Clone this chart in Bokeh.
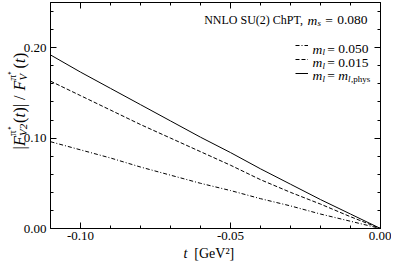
from math import pi
import numpy as np
from bokeh.plotting import figure
from bokeh.models import (Range1d, LinearAxis, FixedTicker, PrintfTickFormatter,
                          Label, Legend, LegendItem)
from bokeh.embed import file_html
from bokeh.resources import INLINE

# ---- data ----
t = [-0.11, -0.10, -0.09, -0.08, -0.07, -0.06, -0.05, -0.04, -0.03, -0.02, -0.01, 0.00]
ratio_phys = [0.192, 0.173, 0.155, 0.137, 0.119, 0.101, 0.084, 0.066, 0.049, 0.032, 0.016, 0.0]
ratio_m015 = [0.163, 0.147, 0.131, 0.115, 0.100, 0.085, 0.070, 0.054, 0.040, 0.027, 0.013, 0.0]
ratio_m050 = [0.096, 0.087, 0.078, 0.068, 0.059, 0.050, 0.042, 0.033, 0.025, 0.016, 0.008, 0.0]
x_limits = (-0.11, 0.0)
y_limits = (0.0, 0.25)
x_major = [-0.10, -0.05, 0.00]
y_major = [0.00, 0.10, 0.20]
x_minor_step = 0.01
y_minor_step = 0.02

# ---- layout in canvas pixels ----
W, H = 391, 261
BOX_L, BOX_R, BOX_T, BOX_B = 50, 380, 2, 228
FONT = "Liberation Serif"

sx = (x_limits[1] - x_limits[0]) / (BOX_R - BOX_L)
sy = (y_limits[1] - y_limits[0]) / (BOX_B - BOX_T)
x0 = x_limits[0] - BOX_L * sx
y1 = y_limits[1] + BOX_T * sy

p = figure(width=W, height=H, min_border=0, x_axis_type=None, y_axis_type=None,
           x_range=Range1d(x0, x0 + W * sx), y_range=Range1d(y1 - H * sy, y1),
           output_backend="svg", toolbar_location=None)
p.outline_line_color = None
p.background_fill_color = "white"
p.border_fill_color = "white"
p.grid.visible = False

def minor_list(lo, hi, step, majors):
    vals = np.round(np.arange(lo, hi + step / 2, step), 6)
    return [float(v) for v in vals if all(abs(v - m) > 1e-9 for m in majors)]

x_minor = minor_list(x_limits[0], x_limits[1], x_minor_step, x_major)
y_minor = minor_list(y_limits[0], y_limits[1], y_minor_step, y_major)

def make_axis(major, minor, loc, bounds, tick_len=6, minor_len=3):
    ax = LinearAxis(ticker=FixedTicker(ticks=major, minor_ticks=minor),
                    fixed_location=loc, bounds=bounds)
    ax.axis_line_color = "black"
    ax.major_tick_in = tick_len
    ax.major_tick_out = 0
    ax.minor_tick_in = minor_len
    ax.minor_tick_out = 0
    ax.major_tick_line_color = "black"
    ax.minor_tick_line_color = "black"
    ax.major_label_text_font = FONT
    ax.major_label_text_font_size = "13px"
    ax.major_label_text_color = "black"
    ax.formatter = PrintfTickFormatter(format="%.2f")
    return ax

# labelled bottom / left axes
bottom = make_axis(x_major, x_minor, y_limits[0], x_limits)
bottom.major_label_standoff = 3
left = make_axis(y_major, y_minor, x_limits[0], y_limits)
left.major_label_standoff = 4
p.add_layout(bottom, "below")
p.add_layout(left, "left")
# unlabelled top / right axes: major ticks drawn as long "minor" ticks
for side, loc, majors, minors, bnds in (("above", y_limits[1], x_major, x_minor, x_limits),
                                        ("right", x_limits[1], y_major, y_minor, y_limits)):
    p.add_layout(make_axis([], majors, loc, bnds, minor_len=6), side)
    p.add_layout(make_axis([], minors, loc, bnds, minor_len=3), side)

r_phys = p.line(t, ratio_phys, line_color="black", line_width=1)
r_015 = p.line(t, ratio_m015, line_color="black", line_width=1, line_dash="4 2")
r_050 = p.line(t, ratio_m050, line_color="black", line_width=1, line_dash="4 2 1 2")

# ---- helpers: reference pixels -> canvas pixels -> data ----
def mx(rx):
    return BOX_L + (rx - 52) * (BOX_R - BOX_L) / 335

def my(ry):
    return BOX_T + (ry - 2) * (BOX_B - BOX_T) / 234

def dx(px):
    return x0 + px * sx

def dy(py):
    return y1 - py * sy

def add_text(px, py, s, size, style="normal", angle=0.0):
    p.add_layout(Label(x=dx(px), y=dy(py), text=s, text_font=FONT,
                       text_font_size=f"{size}px", text_font_style=style,
                       text_baseline="alphabetic", text_align="left",
                       angle=angle, text_color="black"))

def rtext(rx, ry, s, size, style="normal"):
    add_text(mx(rx), my(ry), s, size, style)

# legend samples
row0 = my(47)
legend = Legend(items=[LegendItem(label=" ", renderers=[r_050]),
                       LegendItem(label=" ", renderers=[r_015]),
                       LegendItem(label=" ", renderers=[r_phys])],
                location=(mx(301), H - (row0 - 6) - 40), glyph_width=13, glyph_height=12,
                label_height=12, label_width=0, label_standoff=0,
                label_text_font_size="1px", spacing=2, padding=0, margin=0,
                border_line_color=None, background_fill_alpha=0)
p.add_layout(legend, "center")

# title
tb = 20.5
rtext(208, tb, "NNLO SU(2) ChPT,", 12)
rtext(313, tb, "m", 13.5, "italic")
rtext(323, tb + 3, "s", 9, "italic")
rtext(331, tb, "=", 13.5)
rtext(343, tb, "0.080", 13.5)
# legend texts
for base, val in ((50.5, "0.050"), (64.3, "0.015")):
    rtext(318, base, "m", 13.5, "italic")
    rtext(328, base + 3, "l", 9, "italic")
    rtext(333, base, "=", 13.5)
    rtext(344, base, val, 13.5)
base = 78.1
rtext(318, base, "m", 13.5, "italic")
rtext(328, base + 3, "l", 9, "italic")
rtext(333, base, "=", 13.5)
rtext(344, base, "m", 13.5, "italic")
rtext(354, base + 3, "l", 9, "italic")
rtext(357, base + 3, ",phys", 9)

# x-axis label
add_text(mx(187), 252.5, "t", 14, "italic")
add_text(mx(198), 252.5, "[GeV\u00b2]", 14)

# y-axis label (rotated, bottom to top)
bx = 19
cur = (BOX_T + BOX_B) / 2 + 34
pieces = [  # text, size, style, x-shift, advance
    ("|", 16, "normal", 0, 3.5),
    ("F", 16, "italic", 0, 10),
    ("V2", 11, "italic", 3, 0),
    ("\u03c0\u207a", 11, "normal", -8, 13),
    ("(", 16, "normal", 0, 5.5),
    ("t", 16, "italic", 0, 5),
    (")| / ", 16, "normal", 0, 22),
    ("F", 16, "italic", 0, 10),
    ("V", 11, "italic", 3, 0),
    ("\u03c0\u207a", 11, "normal", -8, 12),
    ("(", 16, "normal", 0, 5.5),
    ("t", 16, "italic", 0, 5),
    (")", 16, "normal", 0, 5.5),
]
for s, size, style, sh, adv in pieces:
    add_text(bx + sh, cur, s, size, style, angle=pi / 2)
    cur -= adv

open("out.html", "w").write(file_html(p, INLINE))
